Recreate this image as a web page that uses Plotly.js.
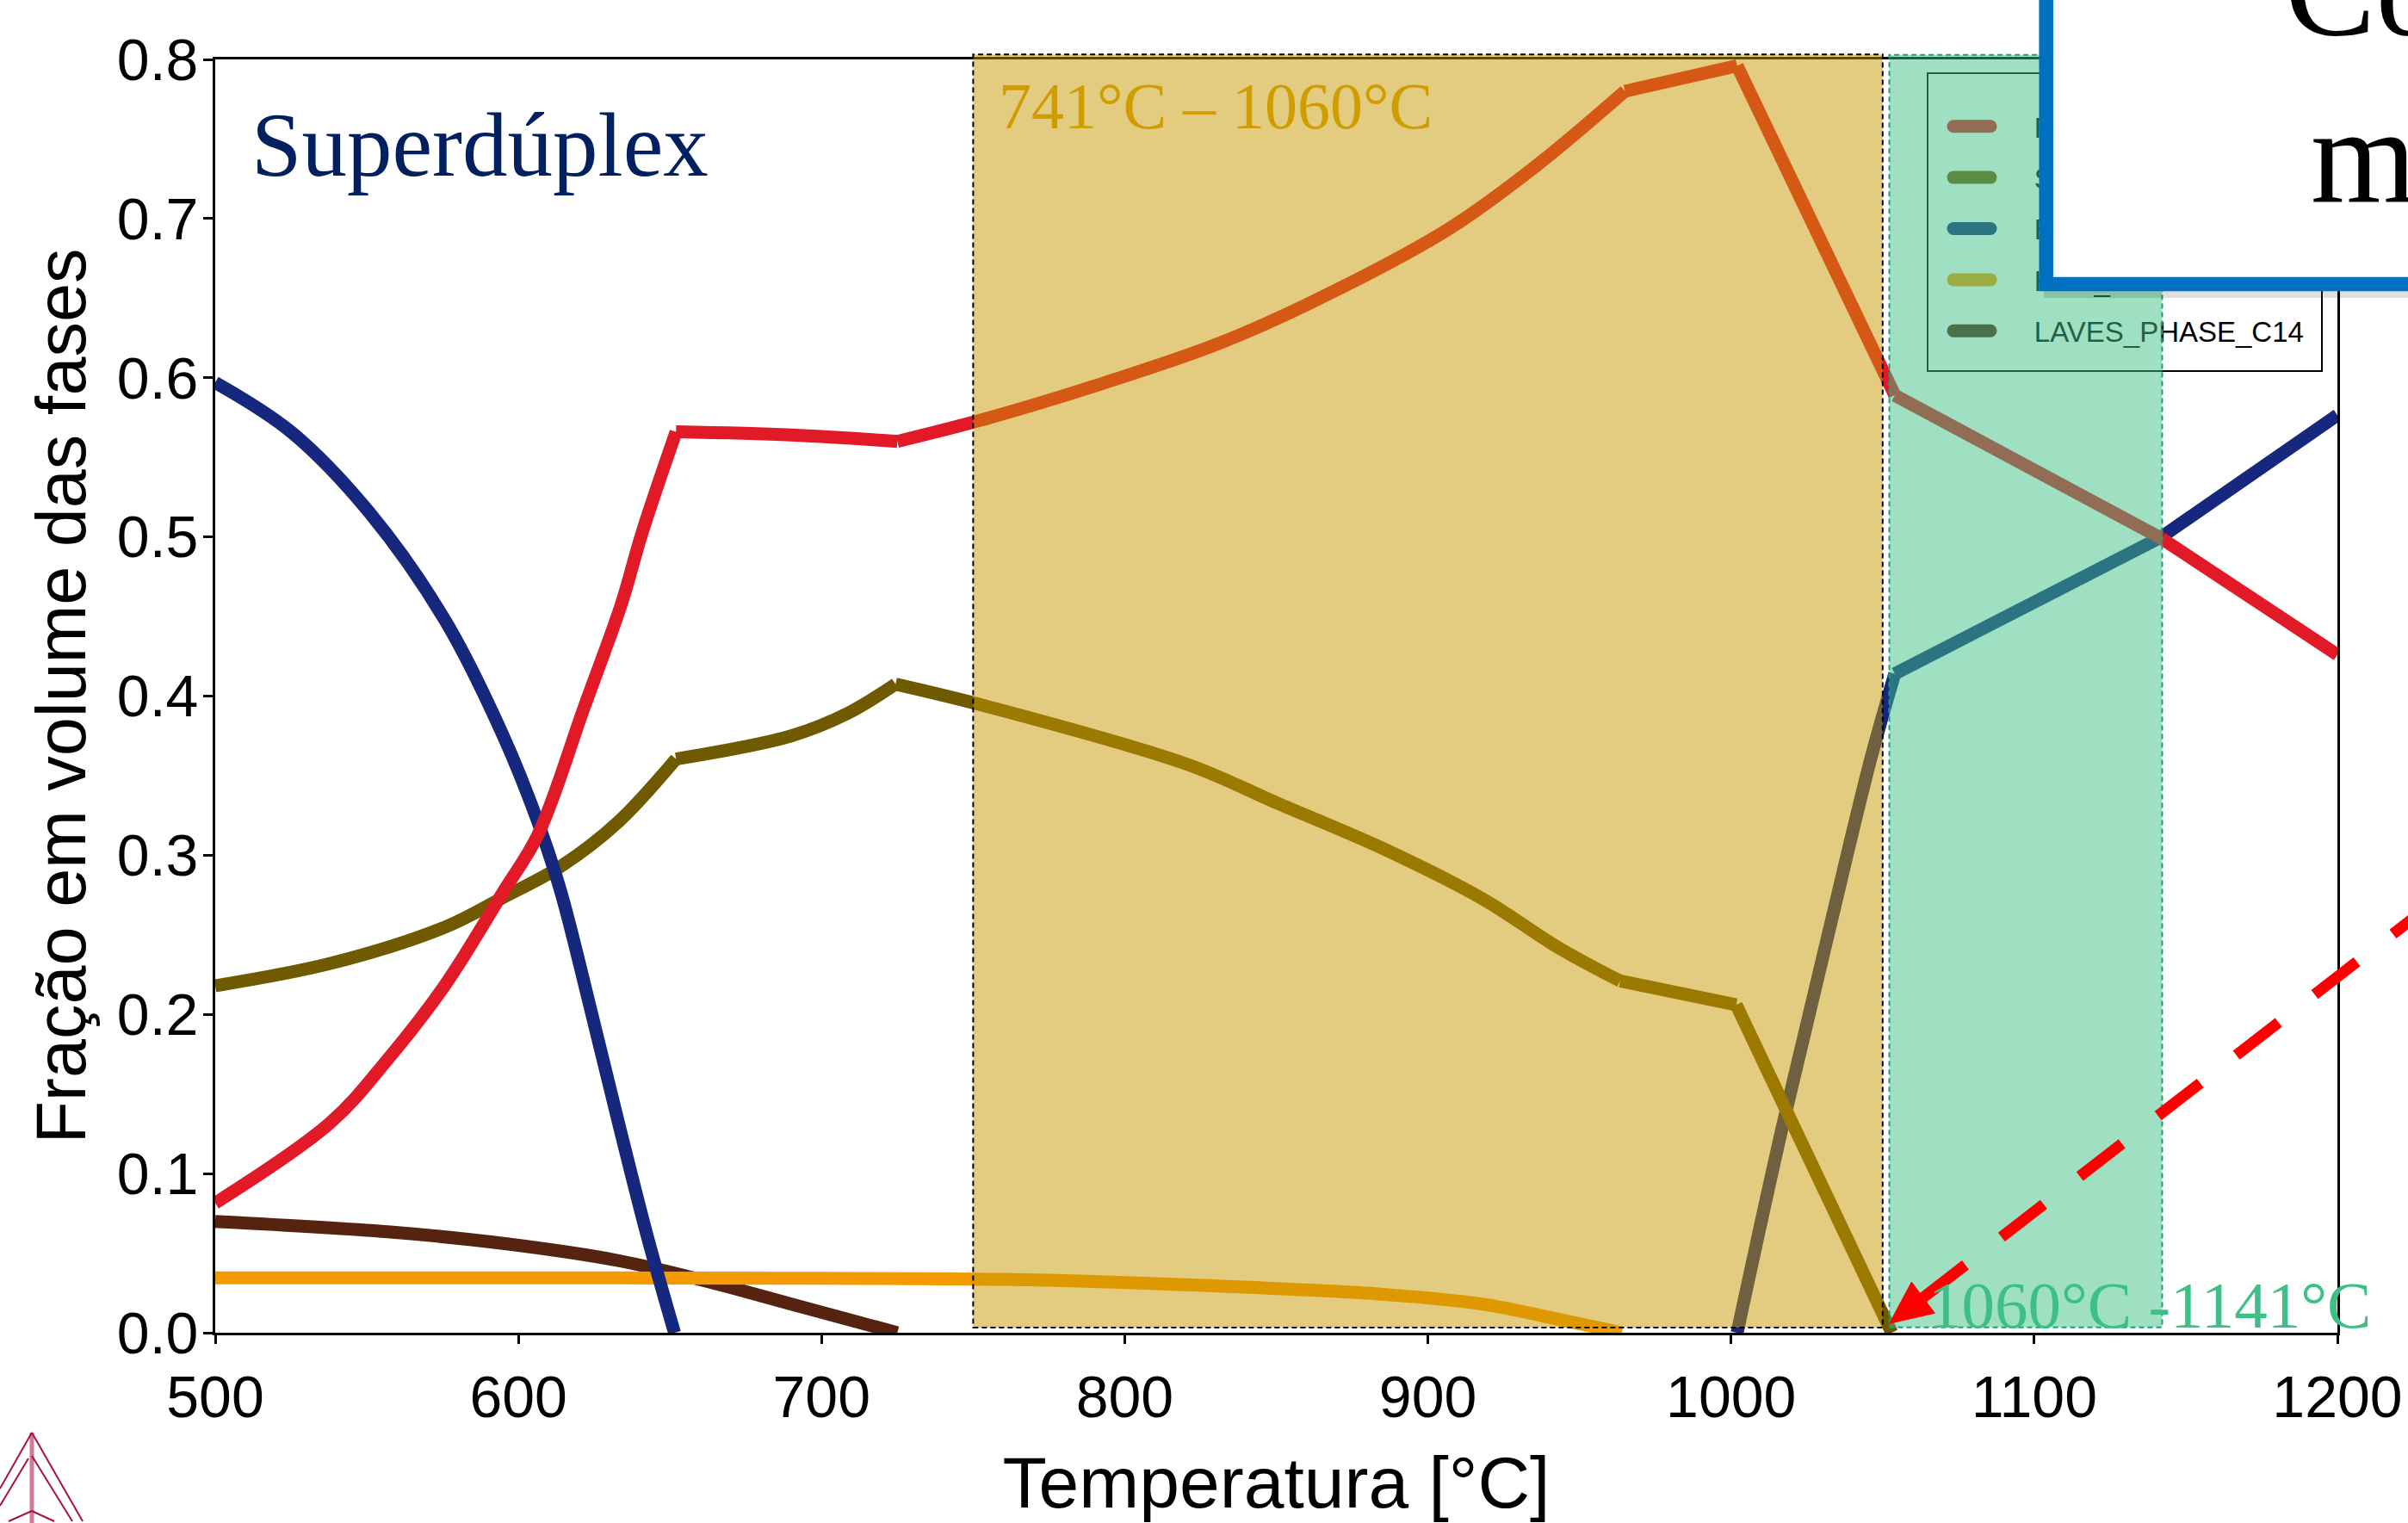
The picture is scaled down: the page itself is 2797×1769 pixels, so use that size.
<!DOCTYPE html>
<html>
<head>
<meta charset="utf-8">
<script src="https://cdn.plot.ly/plotly-3.0.1.min.js"></script>
<style>
html,body{margin:0;padding:0;background:#ffffff;overflow:hidden}
#chart{width:2797px;height:1769px}
</style>
</head>
<body>
<div id="chart"></div>
<script>
// ---------- data ----------
const fccT   = [500, 538, 557, 576, 595, 606.5, 621.7, 634, 640.7, 652, 690, 725, 755.6, 793.6, 831.7, 869.7, 907.7, 936.3, 965, 1002, 1054, 1142, 1200];
const fccV   = [0.0815, 0.132, 0.172, 0.219, 0.277, 0.313, 0.393, 0.458, 0.502, 0.566, 0.564, 0.560, 0.575, 0.597, 0.622, 0.655, 0.6945, 0.734, 0.780, 0.796, 0.589, 0.499, 0.426];
const fccKinks = [652, 725, 965, 1002, 1054, 1142];

const sigmaT = [500, 538, 576, 595, 614, 633, 652, 690, 709, 724.4, 755.6, 820.8, 850, 886, 918.6, 943, 963.4, 1001.7, 1053];
const sigmaV = [0.218, 0.232, 0.255, 0.2735, 0.293, 0.321, 0.3605, 0.375, 0.3895, 0.4075, 0.393, 0.357, 0.333, 0.3035, 0.272, 0.242, 0.221, 0.206, 0.0];
const sigmaKinks = [652, 724.4, 963.4, 1001.7];

const bccLowT  = [500, 525, 551, 576, 595, 606.5, 614, 623.6, 633, 642.6, 651.5];
const bccLowV  = [0.597, 0.566, 0.515, 0.447, 0.375, 0.3206, 0.277, 0.205, 0.132, 0.060, 0.0];
const bccHighT = [1002, 1017, 1032, 1046, 1054, 1142, 1200];
const bccHighV = [0.0, 0.13, 0.25, 0.36, 0.414, 0.500, 0.5765];
const bccHighKinks = [1054, 1142];

const hcpT   = [500, 600, 700, 760, 820, 886, 918.6, 943, 964];
const hcpV   = [0.0345, 0.0345, 0.0342, 0.0335, 0.0302, 0.024, 0.0178, 0.0085, 0.0];

const lavesT = [500, 557, 595, 633, 661.6, 690, 725];
const lavesV = [0.0699, 0.0634, 0.0561, 0.0453, 0.0326, 0.018, 0.0];

const phaseNames = ['FCC_A1', 'SIGMA', 'BCC_A2', 'HCP_A3', 'LAVES_PHASE_C14'];

const xTicks = [500, 600, 700, 800, 900, 1000, 1100, 1200];
const yTicks = [0.0, 0.1, 0.2, 0.3, 0.4, 0.5, 0.6, 0.7, 0.8];

const goldRange  = [750, 1050];      // shaded window "741°C – 1060°C"
const greenRange = [1052.2, 1142.2]; // shaded window "1060°C -1141°C"

// ---------- style ----------
const C = {fcc: '#E21A27', sigma: '#705A00', bcc: '#16287E', hcp: '#F49B00', laves: '#55230F'};
const LW = 15;
const pad = '\u00A0\u00A0\u00A0\u00A0\u00A0';

// split a curve at its kinks so smooth stretches can be drawn as splines
function pieces(T, V, kinks) {
  const out = [];
  let cT = [T[0]], cV = [V[0]];
  for (let i = 1; i < T.length; i++) {
    cT.push(T[i]); cV.push(V[i]);
    if (kinks.indexOf(T[i]) >= 0 && i < T.length - 1) {
      out.push([cT, cV]);
      cT = [T[i]]; cV = [V[i]];
    }
  }
  out.push([cT, cV]);
  return out;
}

function phase(T, V, kinks, name, color, group, rank, legend) {
  return pieces(T, V, kinks).map(function (p, i) {
    return {
      x: p[0], y: p[1], type: 'scatter', mode: 'lines', name: pad + name,
      line: {color: color, width: LW, shape: 'spline', smoothing: 1},
      legendgroup: group, legendrank: rank, showlegend: legend && i === 0,
      hoverinfo: 'skip'
    };
  });
}

const data = [].concat(
  phase(lavesT, lavesV, [], phaseNames[4], C.laves, 'laves', 5, true),
  phase(hcpT, hcpV, [], phaseNames[3], C.hcp, 'hcp', 4, true),
  phase(bccHighT, bccHighV, bccHighKinks, phaseNames[2], C.bcc, 'bcc', 3, true),
  phase(sigmaT, sigmaV, sigmaKinks, phaseNames[1], C.sigma, 'sigma', 2, true),
  phase(bccLowT, bccLowV, [], phaseNames[2], C.bcc, 'bcc', 3, false),
  phase(fccT, fccV, fccKinks, phaseNames[0], C.fcc, 'fcc', 1, true)
);

// page pixels -> paper fractions (plot area: x 250..2715, y 69..1548)
const PL = 250, PW = 2465, PB = 1548, PH = 1479;
const px = v => (v - PL) / PW;
const py = v => (PB - v) / PH;

const logoColor = '#A8123F';
function seg(x0, y0, x1, y1, w, col) {
  return {type: 'line', xref: 'paper', yref: 'paper', x0: px(x0), y0: py(y0), x1: px(x1), y1: py(y1),
          line: {color: col || logoColor, width: w || 2}, layer: 'above'};
}

const shapes = [
  // legend frame (drawn under the shaded windows, like in the reference)
  {type: 'rect', xref: 'paper', yref: 'paper', x0: px(2239), x1: px(2697), y0: py(431), y1: py(85),
   fillcolor: '#ffffff', line: {color: '#000000', width: 2}, layer: 'below'},
  {type: 'rect', xref: 'x', yref: 'paper', x0: goldRange[0], x1: goldRange[1], y0: 0.004, y1: 1.0039,
   fillcolor: 'rgba(199,151,1,0.5)', line: {color: '#000000', width: 2, dash: '6px,4px'}, layer: 'above'},
  {type: 'rect', xref: 'x', yref: 'paper', x0: greenRange[0], x1: greenRange[1], y0: 0.0043, y1: 1.0035,
   fillcolor: 'rgba(63,191,133,0.5)', line: {color: '#1E9E78', width: 2, dash: '6px,4px'}, layer: 'above'},
  // callout box shadow + box
  {type: 'rect', xref: 'paper', yref: 'paper', x0: px(2374), x1: 1.2, y0: py(346), y1: 1.2,
   fillcolor: 'rgba(0,0,0,0.13)', line: {width: 0}, layer: 'above'},
  {type: 'rect', xref: 'paper', yref: 'paper', x0: px(2376.7), x1: 1.2, y0: py(330), y1: 1.2,
   fillcolor: '#ffffff', line: {color: '#0070C0', width: 16.5}, layer: 'above'},
  // red dashed arrow
  {type: 'line', xref: 'paper', yref: 'paper', x0: px(2233.9), y0: py(1507.2), x1: px(2866.5), y1: py(1017.4),
   line: {color: '#FF0000', width: 13, dash: '62px,53px'}, layer: 'above'},
  {type: 'path', xref: 'paper', yref: 'paper',
   path: 'M' + px(2194.6) + ',' + py(1537.3) + ' L' + px(2220.4) + ',' + py(1489.1) + ' L' + px(2247.3) + ',' + py(1525.3) + ' Z',
   fillcolor: '#FF0000', line: {color: '#FF0000', width: 1}, layer: 'above'},
  // Thermo-Calc style logo (bottom-left corner)
  seg(37, 1664, 37, 1772, 5, 'rgba(168,18,63,0.55)'),
  seg(37, 1664, 96, 1767), seg(37, 1691, 84, 1767),
  seg(37, 1664, 0, 1729), seg(33, 1694, 0, 1749),
  seg(10, 1767, 37, 1755), seg(37, 1755, 63, 1767)
];

const serif = '"Liberation Serif", "Times New Roman", serif';
const annotations = [
  {xref: 'paper', yref: 'paper', x: px(290), y: py(168.6), xanchor: 'left', yanchor: 'middle', showarrow: false,
   text: 'Superdúplex', font: {family: serif, size: 105, color: '#002060'}},
  {xref: 'paper', yref: 'paper', x: px(1158), y: py(123.3), xanchor: 'left', yanchor: 'middle', showarrow: false,
   text: '741°C – 1060°C', font: {family: serif, size: 76, color: '#CF9D00'}},
  {xref: 'paper', yref: 'paper', x: px(2238), y: py(1515.6), xanchor: 'left', yanchor: 'middle', showarrow: false,
   text: '1060°C -1141°C', font: {family: serif, size: 77, color: '#3EBF86'}},
  {xref: 'paper', yref: 'paper', x: px(2652), y: py(-13.3), xanchor: 'left', yanchor: 'middle', showarrow: false,
   text: 'Co', font: {family: serif, size: 158, color: '#000000'}},
  {xref: 'paper', yref: 'paper', x: px(2681.5), y: py(180), xanchor: 'left', yanchor: 'middle', showarrow: false,
   text: 'm', font: {family: serif, size: 158, color: '#000000'}}
];

const sans = '"Liberation Sans", Arial, sans-serif';
const layout = {
  width: 2797, height: 1769,
  margin: {l: 250, r: 82, t: 69, b: 221, pad: 0},
  paper_bgcolor: '#ffffff', plot_bgcolor: '#ffffff',
  font: {family: sans, color: '#000000'},
  showlegend: true,
  xaxis: {
    range: [500, 1200], tickmode: 'array', tickvals: xTicks, ticktext: xTicks.map(String),
    showline: true, linecolor: '#000000', linewidth: 3, mirror: true,
    ticks: 'outside', ticklen: 10, tickwidth: 3, tickcolor: '#000000',
    showgrid: false, zeroline: false, ticklabelstandoff: 3,
    tickfont: {family: sans, size: 68, color: '#000000'},
    title: {text: 'Temperatura [°C]', font: {family: sans, size: 84, color: '#000000'}, standoff: 42}
  },
  yaxis: {
    range: [0, 0.8], tickmode: 'array', tickvals: yTicks, ticktext: yTicks.map(v => v.toFixed(1)),
    showline: true, linecolor: '#000000', linewidth: 3, mirror: true,
    ticks: 'outside', ticklen: 11, tickwidth: 3, tickcolor: '#000000',
    showgrid: false, zeroline: false, ticklabelstandoff: -8,
    tickfont: {family: sans, size: 68, color: '#000000'},
    title: {text: 'Fração em volume das fases', font: {family: sans, size: 81, color: '#000000'}, standoff: 10}
  },
  legend: {
    x: px(2240), y: py(118.75), xanchor: 'left', yanchor: 'top',
    bgcolor: 'rgba(0,0,0,0)', borderwidth: 0,
    font: {family: sans, size: 33, color: '#000000'},
    itemwidth: 43, indentation: 24, tracegroupgap: 13.5, traceorder: 'grouped'
  },
  shapes: shapes,
  annotations: annotations
};

const gd = document.getElementById('chart');
Plotly.newPlot(gd, data, layout, {staticPlot: true, displayModeBar: false}).then(function () {
  // in the reference the shaded windows and the callout box lie over the legend
  const leg = gd.querySelector('g.legend');
  const above = gd.querySelector('g.layer-above');
  if (leg && above && above.parentNode) above.parentNode.insertBefore(leg, above);
  if (leg) {
    leg.querySelectorAll('path.js-line').forEach(function (p) {
      p.style.strokeWidth = '15px';
      p.style.strokeLinecap = 'round';
    });
  }
});
</script>
</body>
</html>
